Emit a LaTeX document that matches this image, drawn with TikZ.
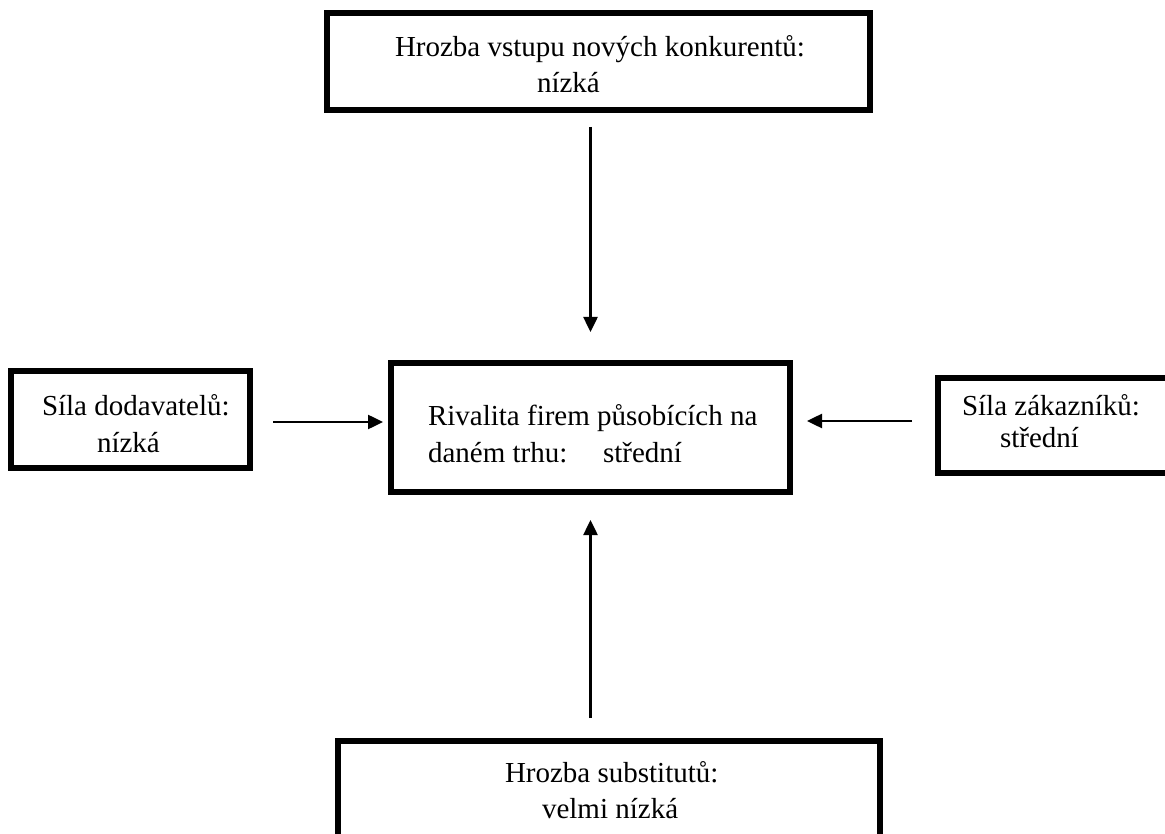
\documentclass[tikz,border=0pt]{standalone}
\usepackage{fontspec}
\setmainfont{Liberation Serif}
\usetikzlibrary{arrows.meta}
\begin{document}
\begin{tikzpicture}[x=1pt,y=-1pt,
  box/.style={draw, line width=6pt, inner sep=0pt, outer sep=0pt},
  txt/.style={anchor=base west, inner sep=0pt, outer sep=0pt, font=\fontsize{29}{35}\selectfont},
  arr/.style={-{Triangle[length=15pt,width=14pt]}, line width=2.5pt}]
\useasboundingbox (0,0) rectangle (1165,834);
\clip (0,0) rectangle (1165,834);

% the five forces
\node[box, minimum width=543pt, minimum height=97pt]  (entry)     at (598.5,61.5) {};
\node[box, minimum width=239pt, minimum height=97pt]  (suppliers) at (130.5,419.5) {};
\node[box, minimum width=399pt, minimum height=129pt] (rivalry)   at (590.5,427.5) {};
\node[box, minimum width=234pt, minimum height=95pt]  (buyers)    at (1055,425.5) {};
\node[box, minimum width=542pt, minimum height=106pt] (subst)     at (609,794) {};

% box texts
\node[txt] (entryA) at (395,57) {Hrozba vstupu nových konkurentů:};
\node[txt] (entryB) at (537,93) {nízká};
\node[txt] (suppA) at (42,415) {Síla dodavatelů:};
\node[txt] (suppB) at (97,452) {nízká};
\node[txt] (rivA) at (428,425) {Rivalita firem působících na};
\node[txt] (rivB) at (428,462) {daném trhu:};
\node[txt] (rivC) at (603,462) {střední};
\node[txt] (buyA) at (962,415) {Síla zákazníků:};
\node[txt] (buyB) at (1000,447) {střední};
\node[txt] (subA) at (505,782) {Hrozba substitutů:};
\node[txt] (subB) at (542,818) {velmi nízká};

% forces acting on the rivalry box
\draw[arr, shorten <=17pt, shorten >=31pt] (entry.south -| rivalry.north) -- (rivalry.north);
\draw[arr, shorten <=23pt, shorten >=8pt]
  ([yshift=-2.5pt]suppliers.east) -- ([yshift=-2.5pt]suppliers.east -| rivalry.west);
\draw[arr, shorten <=26pt, shorten >=17pt]
  ([yshift=4.5pt]buyers.west) -- ([yshift=4.5pt]buyers.west -| rivalry.east);
\draw[arr, shorten <=23pt, shorten >=28pt] (subst.north -| rivalry.south) -- (rivalry.south);
\end{tikzpicture}
\end{document}
